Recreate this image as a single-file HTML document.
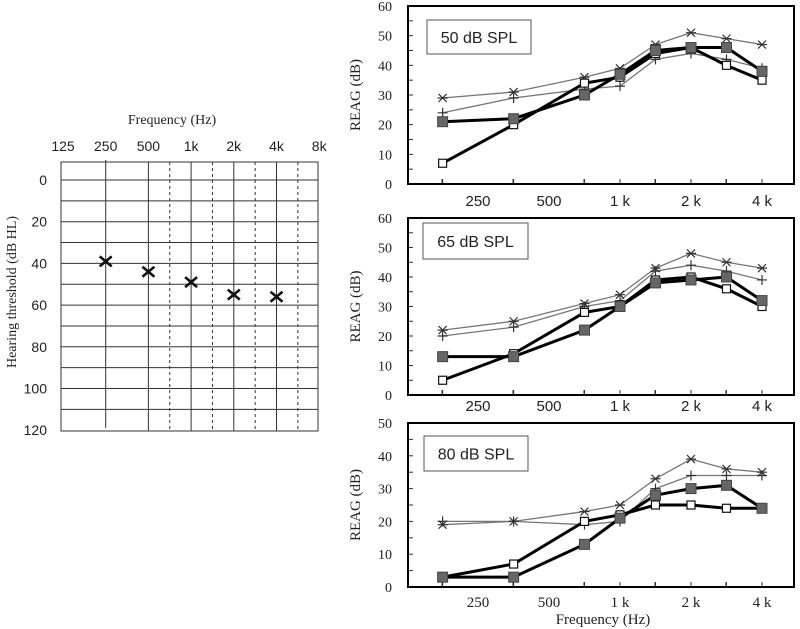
<!DOCTYPE html>
<html><head><meta charset="utf-8"><style>
html,body{margin:0;padding:0;background:#fff;width:800px;height:629px;overflow:hidden}
svg{display:block}
text{font-family:"Liberation Serif",serif;fill:#222}
.sans{font-family:"Liberation Sans",sans-serif}
</style></head><body>
<svg id="chart" width="800" height="629" viewBox="0 0 800 629"></svg>
<script>
// Audiogram data
const audioFreqLabels = ["125","250","500","1k","2k","4k","8k"];
const audioThresholdFreqs = ["250","500","1k","2k","4k"];
const audioThresholds = [39, 44, 49, 55, 56];
const audioYTicks = [0,20,40,60,80,100,120];
// REAG panels
const reagFreqs = [177, 354, 707, 1000, 1414, 2000, 2828, 4000];
const reagTickLabels = ["250","500","1 k","2 k","4 k"];
const reagTickFreqs = [250, 500, 1000, 2000, 4000];
const panelLabels = ["50 dB SPL","65 dB SPL","80 dB SPL"];
const filled50 = [21,22,30,37,45,46,46,38];
const open50   = [7,20,34,36,44,46,40,35];
const star50   = [29,31,36,39,47,51,49,47];
const plus50   = [24,29,32,33,42,44,42,39];
const filled65 = [13,13,22,30,38,39,40,32];
const open65   = [5,14,28,30,39,40,36,30];
const star65   = [22,25,31,34,43,48,45,43];
const plus65   = [20,23,30,32,42,44,42,39];
const filled80 = [3,3,13,21,28,30,31,24];
const open80   = [3,7,20,22,25,25,24,24];
const star80   = [19,20,23,25,33,39,36,35];
const plus80   = [20,20,19,20,30,34,34,34];
const panelYMax = [60, 60, 50];

const NS="http://www.w3.org/2000/svg";
const svg=document.getElementById('chart');
function el(tag,attrs,parent){const e=document.createElementNS(NS,tag);for(const k in attrs)e.setAttribute(k,attrs[k]);(parent||svg).appendChild(e);return e;}
function txt(s,attrs,parent){const t=el('text',attrs,parent);t.textContent=s;return t;}

// ---- Audiogram ----
const ag=el('g',{});


const aL=61,aR=318,aT=162,aB=431;
const audioX=(lbl)=>{const i=audioFreqLabels.indexOf(lbl);return 63+i*42.7;};
const audioY=(v)=>180+v*2.085;
el('rect',{x:aL,y:aT,width:aR-aL,height:aB-aT,fill:'none',stroke:'#333','stroke-width':1},ag);
for(let v=0;v<=110;v+=10){el('line',{x1:aL,x2:aR,y1:audioY(v),y2:audioY(v),stroke:'#333','stroke-width':1},ag);}
audioYTicks.forEach(v=>{const t=txt(String(v),{x:47,y:audioY(v)+5,'text-anchor':'end','font-size':14,class:'sans'},ag);});
["250","500","1k","2k","4k"].forEach(l=>{const x=audioX(l);el('line',{x1:x,x2:x,y1:l==="250"?160:aT,y2:l==="250"?428:aB,stroke:'#333','stroke-width':1},ag);});
for(let i=2;i<6;i++){const x=(audioX(audioFreqLabels[i])+audioX(audioFreqLabels[i+1]))/2;el('line',{x1:x,x2:x,y1:aT,y2:aB,stroke:'#333','stroke-width':1,'stroke-dasharray':'3,3'},ag);}
audioFreqLabels.forEach(l=>{const t=txt(l,{x:audioX(l),y:151,'text-anchor':'middle','font-size':14,class:'sans'},ag);});
const at=txt("Frequency (Hz)",{x:172,y:124,'text-anchor':'middle','font-size':14},ag);

const ay=txt("Hearing threshold (dB HL)",{x:0,y:0,transform:'translate(16,292) rotate(-90)','text-anchor':'middle','font-size':14},ag);

audioThresholdFreqs.forEach((f,i)=>{const x=audioX(f),y=audioY(audioThresholds[i]);
 const m=el('path',{d:`M${x-6},${y-5}L${x+6},${y+5}M${x-6},${y+5}L${x+6},${y-5}`,stroke:'#111','stroke-width':2.6,fill:'none'},ag);
 });

// ---- REAG panels ----
const panels=[{top:6,bot:184,lab:[427,20,104,34],tickY:206},{top:218,bot:395,lab:[423,223,105,36],tickY:411},{top:423,bot:587,lab:[424,436,104,35],tickY:607}];
const series=[[filled50,open50,star50,plus50],[filled65,open65,star65,plus65],[filled80,open80,star80,plus80]];
const pL=408,pR=794;
const fx=(f)=>620+Math.log2(f/1000)*71;
panels.forEach((p,pi)=>{
 const g=el('g',{});
 
 
 const ymax=panelYMax[pi];
 const fy=(v)=>p.bot-v*(p.bot-p.top)/ymax;
 for(let v=0;v<=ymax;v+=5){el('line',{x1:pL,x2:pL+5,y1:fy(v),y2:fy(v),stroke:'#333','stroke-width':1},g);}
 for(let v=0;v<=ymax;v+=10){const t=txt(String(v),{x:392,y:fy(v)+5,'text-anchor':'end','font-size':14},g);}
 reagFreqs.forEach(f=>{el('line',{x1:fx(f),x2:fx(f),y1:p.bot,y2:p.bot-5,stroke:'#333'},g);});
 reagTickFreqs.forEach((f,i)=>{el('line',{x1:fx(f)-36,x2:fx(f)-36,y1:p.bot,y2:p.bot-5,stroke:'#333'},g);
   const t=txt(reagTickLabels[i],{x:fx(f),y:p.tickY,'text-anchor':'middle','font-size':15,class:pi<2?'sans':''},g);});
 const yt=txt("REAG (dB)",{x:0,y:0,transform:`translate(360,${(p.top+p.bot)/2}) rotate(-90)`,'text-anchor':'middle','font-size':15},g);
 
 const [filled,open,star,plus]=series[pi];
 const pts=(arr)=>arr.map((v,i)=>fx(reagFreqs[i])+','+fy(v)).join(' ');
 const sp=el('polyline',{points:pts(star),fill:'none',stroke:'#777','stroke-width':1.3},g);
 const pp=el('polyline',{points:pts(plus),fill:'none',stroke:'#777','stroke-width':1.3},g);
 const op=el('polyline',{points:pts(open),fill:'none',stroke:'#000','stroke-width':3},g);
 const fp=el('polyline',{points:pts(filled),fill:'none',stroke:'#000','stroke-width':3},g);
 star.forEach((v,i)=>{const x=fx(reagFreqs[i]),y=fy(v);const m=el('path',{d:`M${x-5},${y}H${x+5}M${x-4},${y-4}L${x+4},${y+4}M${x-4},${y+4}L${x+4},${y-4}`,stroke:'#333','stroke-width':1.2},g);});
 plus.forEach((v,i)=>{const x=fx(reagFreqs[i]),y=fy(v);const m=el('path',{d:`M${x-5},${y}H${x+5}M${x},${y-5}V${y+5}`,stroke:'#333','stroke-width':1.2},g);});
 open.forEach((v,i)=>{const x=fx(reagFreqs[i]),y=fy(v);const m=el('rect',{x:x-4,y:y-4,width:8,height:8,fill:'#fff',stroke:'#111','stroke-width':1.2},g);});
 filled.forEach((v,i)=>{const x=fx(reagFreqs[i]),y=fy(v);const m=el('rect',{x:x-5,y:y-5,width:10,height:10,fill:'#666',stroke:'#444','stroke-width':1},g);});
 el('rect',{x:pL,y:p.top,width:pR-pL,height:p.bot-p.top,fill:'none',stroke:'#000','stroke-width':2},g);
 const lb=el('rect',{x:p.lab[0],y:p.lab[1],width:p.lab[2],height:p.lab[3],fill:'#fff',stroke:'#555','stroke-width':1},g);
 
 const lt=txt(panelLabels[pi],{x:p.lab[0]+p.lab[2]/2,y:p.lab[1]+p.lab[3]/2+6,'text-anchor':'middle','font-size':16,class:'sans'},g);
 
});
const xt=txt("Frequency (Hz)",{x:603,y:624,'text-anchor':'middle','font-size':15});

</script>
</body></html>
